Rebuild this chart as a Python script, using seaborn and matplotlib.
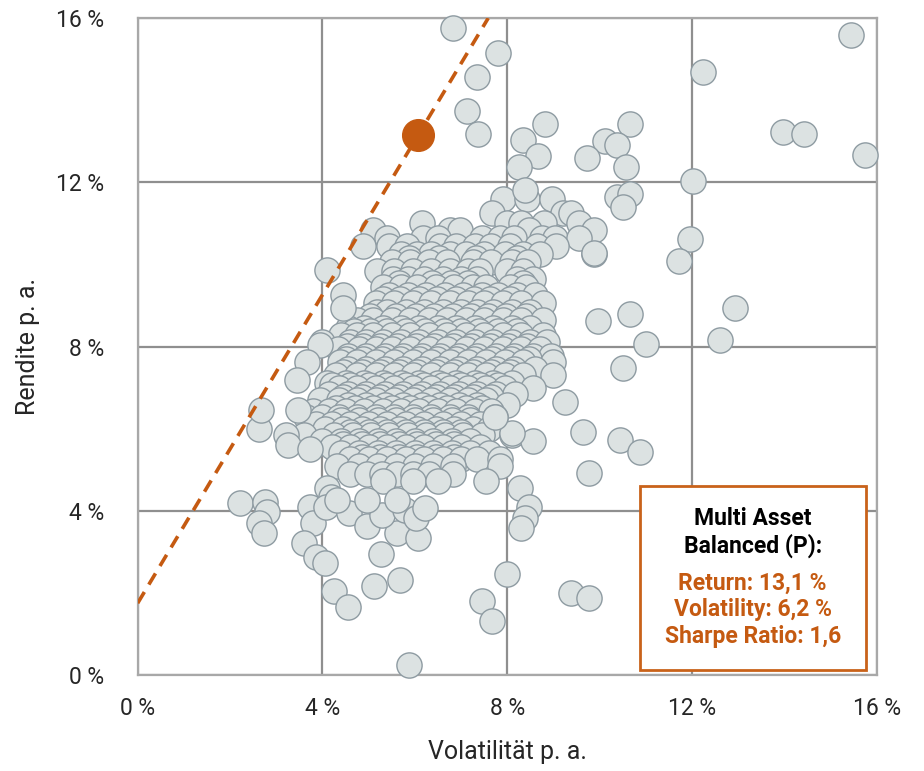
import numpy as np
import pandas as pd
import matplotlib.pyplot as plt
import seaborn as sns
from matplotlib.patches import Rectangle

# Rendite / Volatilitaet der Vergleichsfonds (in %)
# dichter Kern, zeilenweise: eine Rendite je Zeile, Liste der Volatilitaeten
row_ret = [11.6, 11.25, 11.0, 10.85, 10.65, 10.45, 10.25, 10.05, 9.85, 9.65,
           9.45, 9.25, 9.05, 8.85, 8.65, 8.45, 8.28, 8.1, 7.95, 7.78,
           7.62, 7.45, 7.3, 7.12, 7.0, 6.85, 6.7, 6.58, 6.42, 6.28,
           6.12, 5.98, 5.85, 5.7, 5.55, 5.4, 5.25, 5.08, 4.9, 4.72]
row_vol = [
    [7.9, 8.42, 8.96],
    [7.66, 9.2, 9.39],
    [6.15, 8.0, 8.3, 8.8, 9.55],
    [5.09, 6.75, 6.97, 8.48, 9.87],
    [5.39, 6.17, 6.5, 7.45, 7.84, 8.15, 8.75, 9.03, 9.55],
    [4.87, 5.43, 5.84, 6.54, 6.9, 7.3, 7.65, 8.05, 8.64, 9.05],
    [5.7, 6.04, 6.35, 6.75, 7.1, 7.5, 7.95, 8.33, 8.7, 9.87],
    [5.5, 5.9, 6.3, 6.7, 7.25, 7.65, 8.1, 8.45],
    [5.19, 5.55, 5.95, 6.35, 6.75, 7.15, 7.4, 8.0, 8.35],
    [5.52, 5.85, 6.2, 6.6, 7.0, 7.35, 8.2, 8.55],
    [5.3, 5.7, 6.05, 6.45, 6.85, 7.25, 7.55, 8.05, 8.4],
    [5.45, 5.85, 6.25, 6.65, 7.05, 7.45, 7.8, 8.2, 8.6],
    [5.15, 5.55, 5.95, 6.35, 6.75, 7.15, 7.5, 7.9, 8.3, 8.77],
    [5.19, 5.4, 5.8, 6.2, 6.6, 7.0, 7.35, 7.7, 8.1, 8.5],
    [4.75, 5.1, 5.5, 5.9, 6.3, 6.7, 7.1, 7.5, 7.9, 8.3, 8.77],
    [4.55, 4.9, 5.3, 5.7, 6.1, 6.5, 6.9, 7.3, 7.7, 8.1, 8.5],
    [4.4, 4.75, 5.1, 5.5, 5.9, 6.3, 6.7, 7.1, 7.5, 7.9, 8.3, 8.77],
    [4.0, 4.6, 4.95, 5.3, 5.7, 6.1, 6.5, 6.9, 7.3, 7.7, 8.1, 8.5, 8.85],
    [4.33, 4.8, 5.15, 5.5, 5.9, 6.3, 6.7, 7.1, 7.5, 7.9, 8.3, 8.7],
    [4.55, 4.95, 5.35, 5.75, 6.15, 6.55, 6.95, 7.35, 7.75, 8.15, 8.55, 8.95],
    [4.37, 4.75, 5.15, 5.55, 5.95, 6.35, 6.75, 7.15, 7.55, 7.95, 8.35, 8.98],
    [4.55, 4.95, 5.35, 5.75, 6.15, 6.55, 6.95, 7.35, 7.75, 8.15, 8.6],
    [4.3, 4.75, 5.15, 5.55, 5.95, 6.35, 6.75, 7.15, 7.55, 7.95, 8.35, 8.98],
    [4.09, 4.5, 4.9, 5.3, 5.7, 6.1, 6.5, 6.9, 7.3, 7.7, 8.1],
    [4.35, 4.75, 5.15, 5.55, 5.95, 6.35, 6.75, 7.15, 7.55, 7.95, 8.55],
    [4.15, 4.55, 4.95, 5.35, 5.75, 6.15, 6.55, 6.95, 7.35, 7.75, 8.16],
    [3.95, 4.35, 4.75, 5.15, 5.55, 5.95, 6.35, 6.75, 7.15, 7.55],
    [4.55, 4.95, 5.35, 5.75, 6.15, 6.55, 6.95, 7.35, 8.0],
    [3.8, 4.15, 4.5, 4.9, 5.3, 5.7, 6.1, 6.5, 6.9, 7.3, 7.65],
    [3.65, 4.0, 4.35, 4.75, 5.15, 5.55, 5.95, 6.35, 6.75, 7.15, 7.73],
    [3.85, 4.2, 4.6, 5.0, 5.4, 5.8, 6.2, 6.6, 7.0, 7.4],
    [4.05, 4.45, 4.85, 5.25, 5.65, 6.05, 6.45, 6.85, 7.25, 7.6],
    [3.6, 4.25, 4.65, 5.05, 5.45, 5.85, 6.25, 6.65, 7.05, 7.45, 8.1],
    [4.0, 4.4, 4.8, 5.2, 5.6, 6.0, 6.4, 6.8, 7.2, 8.55],
    [4.2, 4.6, 5.0, 5.4, 5.8, 6.2, 6.6, 7.0, 7.4],
    [4.4, 4.8, 5.2, 5.6, 6.0, 6.4, 6.8, 7.2, 7.6],
    [4.6, 5.0, 5.4, 5.8, 6.2, 6.6, 7.0, 7.34, 7.84],
    [4.31, 4.8, 5.2, 5.6, 6.0, 6.4, 6.82, 7.84],
    [4.59, 4.96, 5.28, 5.61, 5.95, 6.3, 6.82],
    [5.3, 5.95, 6.49, 7.53],
]

# zusaetzliche Zeilen im besonders dichten Zentrum
mid_ret = [10.15, 9.55, 9.15, 8.75, 8.37, 8.02, 7.7, 7.37, 7.06, 6.78,
           6.5, 6.2, 5.92, 5.62, 5.32]
mid_vol = [
    [5.88, 6.52, 7.33, 8.2],
    [5.65, 6.38, 6.78, 7.15, 8.35],
    [5.3, 5.68, 6.08, 6.48, 6.9, 7.28, 7.62, 8.05],
    [5.02, 5.6, 6.02, 6.42, 6.82, 7.22, 7.58, 7.98, 8.4],
    [4.68, 5.03, 5.4, 5.8, 6.22, 6.62, 7.0, 7.38, 7.8, 8.2],
    [4.52, 4.88, 5.25, 5.62, 6.02, 6.42, 6.82, 7.22, 7.62, 8.02, 8.42],
    [4.5, 4.88, 5.28, 5.68, 6.08, 6.48, 6.88, 7.28, 7.68, 8.08, 8.48],
    [4.45, 4.85, 5.25, 5.65, 6.05, 6.45, 6.85, 7.25, 7.65, 8.05],
    [4.2, 4.6, 5.0, 5.4, 5.8, 6.2, 6.6, 7.0, 7.4, 7.8],
    [4.45, 4.85, 5.25, 5.65, 6.05, 6.45, 6.85, 7.25, 7.65],
    [4.3, 4.7, 5.1, 5.5, 5.9, 6.3, 6.7, 7.1, 7.45],
    [4.4, 4.8, 5.2, 5.6, 6.0, 6.4, 6.8, 7.2],
    [4.6, 5.0, 5.4, 5.8, 6.2, 6.6, 7.0],
    [4.45, 4.85, 5.25, 5.65, 6.05, 6.45, 6.85],
    [4.85, 5.25, 5.65, 6.05, 6.45, 6.85],
]

# einzeln stehende Fonds ausserhalb des Kerns
out_vol = [6.82, 7.81, 7.34, 7.12, 7.36,
           15.43, 12.23, 13.96, 14.42, 15.74, 12.03,
           8.81, 8.33, 8.66, 8.25, 8.38,
           10.65, 10.11, 10.37, 9.72, 10.56,
           10.37, 10.65, 10.5, 11.95, 11.71, 9.87,
           12.92, 12.6, 10.65, 9.96, 11.0, 10.5, 9.26, 9.63, 10.45, 10.87, 9.76,
           9.39, 9.76, 7.99, 7.45, 7.66, 5.87,
           8.27, 8.46, 8.38, 8.29, 8.1, 7.73,
           2.21, 2.75, 2.81, 2.62, 2.73, 2.62, 2.68, 3.2, 3.25, 3.72, 3.46,
           3.72, 3.79, 3.61, 3.87, 4.05, 4.26, 4.55,
           4.09, 4.18, 4.07, 4.57, 4.96, 5.26, 5.11, 5.67, 5.61, 6.06,
           5.28, 5.78, 6.02, 6.21, 4.96, 5.61, 4.31,
           4.09, 4.44, 4.44, 3.94, 3.66, 3.44]
out_ret = [15.76, 15.15, 14.56, 13.74, 13.18,
           15.59, 14.69, 13.22, 13.18, 12.66, 12.03,
           13.42, 13.03, 12.64, 12.37, 11.81,
           13.42, 13.0, 12.9, 12.59, 12.37,
           11.64, 11.71, 11.4, 10.62, 10.08, 10.28,
           8.94, 8.16, 8.79, 8.62, 8.06, 7.48, 6.65, 5.92, 5.72, 5.43, 4.92,
           2.0, 1.88, 2.46, 1.8, 1.32, 0.24,
           4.55, 4.1, 3.82, 3.58, 5.89, 6.28,
           4.19, 4.21, 3.97, 3.7, 3.46, 5.99, 6.45, 5.85, 5.6, 5.5, 6.45,
           4.1, 3.7, 3.21, 2.87, 2.73, 2.05, 1.66,
           4.55, 4.34, 4.1, 3.95, 3.63, 2.95, 2.17, 2.31, 3.46, 3.34,
           3.9, 4.02, 3.82, 4.07, 4.26, 4.26, 4.26,
           9.86, 9.25, 8.94, 8.04, 7.62, 7.18]

# Multi Asset Balanced (P) und Kapitalmarktlinie
fund_vol = 6.07
fund_ret = 13.15
line_start = 1.75

ticks = [0, 4, 8, 12, 16]
tick_labels = ["0 %", "4 %", "8 %", "12 %", "16 %"]

all_ret = row_ret + mid_ret
all_vol = row_vol + mid_vol
core = pd.DataFrame({
    "Volatilitaet": [v for vs in all_vol for v in vs],
    "Rendite": [r for r, vs in zip(all_ret, all_vol) for _ in vs],
})
# tiefer liegende Punkte zuletzt zeichnen, wie im Original
core = core.sort_values("Rendite", ascending=False, kind="stable")
df = pd.concat([core, pd.DataFrame({"Volatilitaet": out_vol, "Rendite": out_ret})],
               ignore_index=True)

orange = "#c55a11"

sns.set_style("white")
plt.rcParams["font.family"] = ["Roboto", "DejaVu Sans"]

fig = plt.figure(figsize=(9.24, 7.71), dpi=100)
ax = fig.add_axes([0.149, 0.1245, 0.8, 0.852])

sns.scatterplot(data=df, x="Volatilitaet", y="Rendite", s=330, color="#dce2e2",
                edgecolor="#8e9ba2", linewidth=1.0, zorder=3, clip_on=False, ax=ax)

ax.axline((0, line_start), (fund_vol, fund_ret), color=orange, lw=2.6,
          linestyle=(0, (3.6, 2.4)), zorder=4)
ax.scatter([fund_vol], [fund_ret], s=520, color=orange, edgecolor=orange,
           zorder=5, clip_on=False)

ax.set_xlim(0, 16)
ax.set_ylim(0, 16)
ax.set_xticks(ticks)
ax.set_yticks(ticks)
ax.set_xticklabels(tick_labels, fontsize=16.5)
ax.set_yticklabels(tick_labels, fontsize=16.5)
ax.tick_params(axis="x", length=7, width=1.5, color="#a0a0a0", pad=9)
ax.tick_params(axis="y", length=0, pad=24)
ax.grid(True, color="#8f8f8f", lw=1.6, zorder=0)
ax.set_axisbelow(True)
for s in ax.spines.values():
    s.set_color("#a8a8a8")
    s.set_linewidth(1.6)

ax.set_xlabel("Volatilität p. a.", fontsize=18, labelpad=14)
ax.set_ylabel("Rendite p. a.", fontsize=18, labelpad=12)

# Infobox
ax.add_patch(Rectangle((0.679, 0.0076), 0.306, 0.28, transform=ax.transAxes,
                       facecolor="white", edgecolor="#c9621a", lw=2, zorder=6))
ax.text(0.832, 0.239, "Multi Asset", transform=ax.transAxes, ha="center", va="center",
        fontsize=16.5, fontweight="bold", color="black", zorder=7)
ax.text(0.832, 0.196, "Balanced (P):", transform=ax.transAxes, ha="center", va="center",
        fontsize=16.5, fontweight="bold", color="black", zorder=7)
for y, t in [(0.140, "Return: 13,1 %"), (0.099, "Volatility: 6,2 %"),
             (0.058, "Sharpe Ratio: 1,6")]:
    ax.text(0.832, y, t, transform=ax.transAxes, ha="center", va="center",
            fontsize=16.5, fontweight="bold", color=orange, zorder=7)

fig.savefig("out.png", dpi=100)
